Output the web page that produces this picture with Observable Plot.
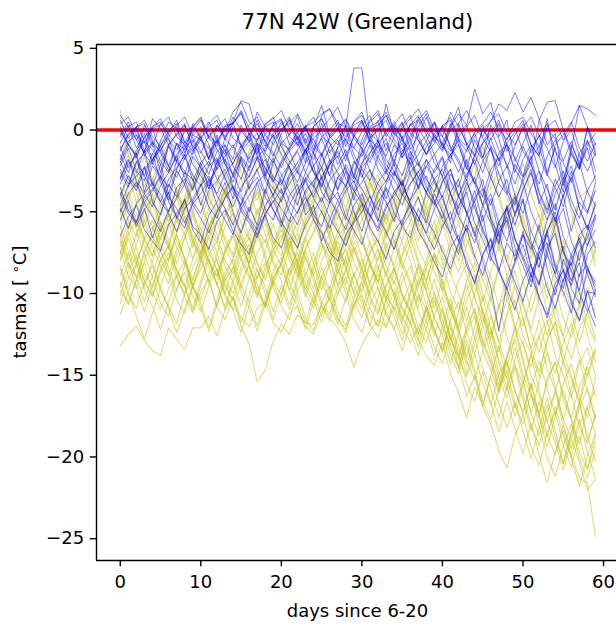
<!DOCTYPE html>
<html><head><meta charset="utf-8">
<script src="https://cdn.jsdelivr.net/npm/d3@7"></script>
<script src="https://cdn.jsdelivr.net/npm/@observablehq/plot@0.6"></script>
<style>html,body{margin:0;padding:0;background:#fff;overflow:hidden}</style>
</head><body><div id="chart"></div>
<script>
const title = "77N 42W (Greenland)";
const xLabel = "days since 6-20";
const xTicks = [0, 10, 20, 30, 40, 50, 60];
const yTicks = [5, 0, -5, -10, -15, -20, -25];
const threshold = [0];

const blueRuns = [
[-0.4,0.3,-1.1,-0.2,-1.9,-0.7,0.5,0.1,-1.4,-0.3,0.2,-0.9,-2.1,-0.5,0.4,1.1,-0.3,0.6,-0.8,-1.6,-0.2,0.7,-0.6,0.3,-1.2,0.9,1.3,0.4,0.2,3.8,3.8,-0.5,0.6,-1.3,0.2,-0.4,-1.8,0.1,-0.7,0.5,-1.1,0.4,-0.9,-2.4,-0.6,-1.7,0.3,-0.5,-2.3,-1.0,0.2,-1.4,-0.3,-2.6,-1.1,-3.4,-0.9,-2.0,0.1,-1.5],
[0.6,-0.5,0.2,-1.3,0.7,0.1,-0.9,-0.3,0.4,-1.1,-0.4,-1.8,0.3,-0.6,0.5,1.8,1.6,-0.2,-1.0,0.4,0.7,-0.9,-0.1,-1.5,0.2,1.5,-0.3,0.4,-1.6,-0.4,0.3,0.9,-0.7,1.6,-0.2,0.5,-1.2,-0.3,0.8,-0.6,-1.3,0.2,1.0,0.3,2.5,1.0,1.7,-0.4,0.6,-1.9,-0.8,0.3,-1.5,0.7,-2.1,-3.8,-1.2,-2.4,0.2,-0.9],
[-1.2,-0.3,0.1,-1.6,-0.8,-2.6,-1.0,-1.9,0.3,-0.5,-1.3,-2.2,-0.7,-1.5,0.2,-0.9,-2.0,-1.1,-2.7,-0.6,0.0,0.6,-1.0,-0.2,-1.4,0.4,-0.8,-2.1,-1.2,-2.9,-0.6,0.5,1.0,-0.4,0.3,-1.7,-0.9,0.6,-0.3,-1.5,-0.8,-2.0,0.4,-0.9,-1.6,0.1,0.5,1.6,1.2,2.3,1.1,2.0,0.7,-0.9,-0.2,-3.0,-1.4,-2.3,-0.6,-2.5],
[-2.0,-0.9,-1.5,0.3,-0.6,-1.4,-2.5,-0.8,-1.2,0.2,-0.4,-1.7,-0.6,0.0,0.5,-1.1,-0.2,-1.4,0.3,0.8,-0.5,-1.3,-0.7,-2.0,0.2,0.7,-0.4,0.1,-1.0,0.5,1.1,-0.3,-1.4,-0.5,-2.2,0.3,0.9,-0.6,-1.5,-0.4,-0.8,0.2,1.4,-0.9,-0.2,-1.7,-0.5,-1.9,-0.9,-2.6,-1.0,-2.1,0.6,1.7,1.8,0.0,-1.2,1.5,1.3,0.9],
[-3.0,-1.9,-2.6,-1.2,-3.4,-2.1,-3.9,-2.4,-1.5,-3.1,-2.0,-3.6,-1.8,-2.9,-4.2,-1.6,-2.3,-0.9,-2.8,-1.7,-3.3,-2.2,-4.0,-2.6,-1.4,-3.0,-1.8,-3.7,-2.5,-4.3,-2.1,-0.9,-2.4,-3.2,-1.9,-2.8,-1.3,-3.6,-2.2,-3.0,-4.1,-2.7,-3.5,-1.8,-3.3,-4.6,-2.9,-4.1,-3.0,-5.3,-3.7,-2.4,-4.5,-3.3,-5.6,-4.0,-6.2,-4.4,-5.1,-3.2],
[-5.5,-4.3,-5.9,-4.8,-6.6,-5.1,-3.8,-5.4,-4.2,-6.1,-6.9,-5.2,-4.4,-3.2,-5.0,-6.3,-4.7,-5.8,-3.6,-4.9,-5.7,-4.0,-3.3,-5.2,-4.6,-6.8,-5.5,-4.3,-3.4,-5.0,-6.2,-4.5,-5.6,-3.5,-4.3,-5.9,-6.6,-4.8,-5.7,-3.9,-5.0,-6.4,-7.6,-5.8,-6.9,-5.2,-7.8,-8.6,-6.9,-7.7,-6.2,-8.4,-9.5,-7.6,-8.8,-7.1,-9.7,-10.6,-8.5,-9.3],
[0.2,-0.9,-1.7,-0.4,0.1,-1.3,-2.2,-0.8,-1.6,0.4,-0.6,-1.1,-2.4,-0.9,-1.8,0.3,-0.7,-1.5,-0.2,0.1,-1.0,-1.9,-2.6,-1.2,-0.5,0.0,-1.4,-0.6,-1.9,-0.3,0.5,-0.8,-1.6,-2.5,-0.9,-1.7,0.4,-0.3,-1.5,-0.8,0.3,-1.1,-2.0,-3.1,-1.5,-2.6,-1.0,-3.3,-3.9,-2.1,-2.9,-1.6,-3.8,-4.9,-3.0,-4.1,-2.5,-4.8,-6.1,-4.4],
[-2.6,-3.5,-1.9,-2.8,-1.4,-3.2,-4.3,-2.5,-3.3,-1.6,-2.3,-3.4,-2.0,-1.2,-2.9,-1.8,-3.6,-2.4,-3.9,-1.9,-2.7,-3.8,-4.6,-2.9,-3.5,-1.5,-2.8,-3.6,-2.1,-3.0,-1.2,-2.5,-3.3,-4.2,-2.6,-3.4,-1.7,-2.9,-3.8,-4.5,-3.1,-2.4,-4.0,-5.1,-3.7,-5.6,-4.2,-6.3,-5.5,-8.0,-6.4,-7.3,-5.8,-8.5,-10.1,-7.9,-9.2,-8.1,-10.8,-12.0],
[-1.0,-2.3,-1.4,-3.8,-2.2,-2.9,-0.9,-2.0,-2.7,-1.3,-0.6,-1.8,-0.3,-2.1,-3.2,-1.7,-2.5,-0.8,-1.6,-2.9,-3.4,-2.0,-1.2,-0.5,-2.2,-1.4,-2.8,-1.0,0.0,-1.5,-2.4,-3.1,-1.6,-0.8,-1.9,-0.4,-2.7,-3.5,-1.8,-2.6,-1.7,-3.9,-4.8,-3.2,-4.4,-3.0,-5.5,-6.9,-4.6,-5.8,-4.3,-6.8,-7.9,-6.2,-5.0,-7.5,-8.3,-6.4,-5.8,-7.2],
[-0.3,0.5,-0.6,0.1,-1.0,0.4,-0.2,0.6,-0.8,0.2,0.7,-0.5,0.3,-0.4,0.8,0.0,-0.7,1.1,0.2,-0.5,0.5,-0.3,0.9,-0.8,0.2,0.7,-0.4,-0.9,0.3,-0.2,0.6,-0.7,0.2,0.9,-0.3,0.4,-0.6,0.8,-0.1,0.5,-0.4,1.1,0.2,-0.8,-1.5,0.0,-0.6,0.4,-1.3,-0.3,0.4,-0.9,-1.6,0.1,-0.5,-1.9,-0.7,-2.2,-1.1,-3.1],
[-4.0,-2.8,-3.5,-2.2,-4.4,-5.2,-3.3,-4.1,-2.6,-3.0,-4.6,-3.1,-2.4,-1.8,-3.5,-4.0,-5.0,-3.2,-2.7,-4.1,-4.8,-5.6,-3.9,-3.1,-2.2,-3.8,-4.5,-2.9,-3.4,-1.9,-2.7,-4.1,-4.9,-3.3,-2.5,-3.9,-4.7,-5.6,-3.8,-3.0,-2.4,-3.9,-5.3,-6.2,-4.1,-3.6,-5.4,-6.5,-4.8,-4.1,-5.9,-7.0,-8.4,-6.1,-5.3,-7.4,-8.6,-9.8,-7.6,-6.8],
[-1.5,-2.6,-1.2,-0.7,-2.0,-2.8,-3.5,-1.9,-1.1,-0.6,-1.8,-2.7,-1.3,-0.9,-2.2,-3.0,-1.5,-0.8,-2.4,-3.1,-1.9,-1.0,-0.4,-1.7,-2.5,-3.4,-2.0,-1.1,-0.5,-1.8,-2.9,-1.4,-0.7,-2.1,-2.8,-1.3,-0.6,-2.0,-3.0,-3.8,-2.2,-1.5,-0.6,-2.1,-3.2,-4.1,-2.4,-1.7,-3.6,-4.6,-2.9,-2.1,-3.9,-5.1,-3.4,-2.5,-4.3,-5.4,-3.7,-2.8],
[0.9,0.2,-0.6,-1.4,0.1,0.3,0.8,-0.4,-0.9,-0.1,0.6,-0.5,-1.0,0.2,0.4,1.2,0.1,-0.8,-1.3,-0.2,0.3,0.8,-0.6,-1.1,-1.8,-0.4,0.0,0.6,-0.7,-1.1,-0.1,0.6,1.2,-0.2,-0.8,-1.5,-0.3,0.2,1.0,-0.4,-0.9,-1.7,-0.4,0.2,0.9,-0.5,-1.3,-2.2,-0.8,-0.1,0.6,-0.9,-1.6,-2.8,-0.9,-0.3,0.5,-1.1,-1.9,-0.8],
[-3.5,-4.9,-5.6,-4.1,-3.6,-2.8,-4.4,-5.3,-6.0,-4.5,-3.9,-3.0,-4.6,-5.5,-6.4,-4.8,-4.0,-3.2,-4.9,-5.5,-4.1,-3.3,-2.5,-4.0,-5.2,-5.9,-4.4,-3.8,-5.3,-6.1,-7.0,-5.4,-4.4,-3.6,-5.1,-5.8,-4.3,-3.5,-2.8,-4.4,-5.5,-6.3,-4.6,-3.8,-5.7,-6.7,-8.0,-6.1,-5.3,-7.2,-8.3,-9.6,-7.5,-6.9,-8.9,-9.9,-11.2,-8.8,-8.3,-9.8],
[-0.8,0.2,0.5,-0.7,-1.2,-2.1,-0.9,-0.2,0.3,-1.0,-1.4,-0.3,0.1,0.7,-0.5,-0.9,-1.8,-0.6,0.2,0.5,-0.8,-1.2,-0.1,0.2,0.8,-0.4,-0.8,-1.7,-0.5,0.3,0.6,-0.6,-1.1,0.0,0.3,1.0,-0.2,-0.6,-1.5,-0.2,0.1,0.8,-0.5,-1.0,-2.1,-0.8,-0.2,0.6,-0.9,-1.7,-2.8,-1.1,-0.4,0.4,-1.3,-2.0,-3.2,-1.4,-0.7,-1.6],
[-2.2,-1.1,-2.5,-3.1,-1.8,-1.2,-0.5,-1.9,-2.5,-3.6,-2.0,-1.4,-0.6,-2.1,-2.7,-3.8,-2.2,-1.6,-2.9,-3.6,-4.4,-2.9,-2.3,-1.2,-2.6,-3.5,-2.1,-1.6,-3.0,-3.7,-2.3,-1.7,-0.9,-2.4,-3.0,-4.0,-2.6,-2.0,-3.5,-4.3,-5.4,-3.8,-3.0,-5.1,-6.3,-8.0,-9.6,-12.3,-9.4,-8.0,-6.4,-8.3,-9.4,-7.2,-6.3,-8.6,-9.5,-7.4,-6.6,-5.2],
[-6.5,-5.3,-4.6,-6.1,-6.8,-7.4,-5.8,-5.1,-4.3,-5.9,-6.4,-7.3,-5.6,-4.9,-6.2,-7.0,-7.6,-5.9,-5.2,-6.6,-7.2,-5.7,-5.0,-4.1,-5.5,-6.3,-7.5,-8.0,-6.4,-5.6,-4.5,-6.0,-6.8,-7.9,-6.2,-5.5,-4.6,-6.2,-7.0,-8.1,-9.0,-7.2,-6.4,-8.3,-9.3,-7.6,-6.7,-8.7,-9.7,-11.0,-9.2,-8.2,-10.3,-11.3,-9.4,-8.6,-10.6,-11.6,-9.8,-11.5],
[0.4,0.8,-0.3,-0.8,0.2,0.5,-0.6,-1.2,-0.1,0.2,0.8,-0.4,-0.8,0.3,0.4,1.0,-0.2,-0.6,0.4,0.7,1.2,0.1,-0.4,-1.3,-0.2,0.1,0.7,1.4,0.2,-0.3,-1.2,0.1,0.3,0.9,-0.2,-0.7,0.3,0.6,1.2,0.0,-0.4,-1.3,-0.1,0.3,-1.1,-1.8,-2.9,-1.4,-0.9,-2.4,-3.2,-1.7,-1.0,-2.7,-3.5,-4.7,-2.8,-2.0,-3.8,-4.6],
[-4.6,-3.4,-2.8,-2.3,-3.3,-3.9,-5.0,-3.5,-3.0,-4.4,-5.1,-3.7,-3.1,-2.4,-3.6,-4.2,-5.4,-6.1,-4.6,-3.9,-3.0,-4.4,-5.1,-3.7,-3.1,-2.3,-3.6,-4.3,-5.5,-3.8,-3.2,-2.4,-3.7,-4.4,-5.6,-4.0,-3.3,-2.5,-3.9,-4.6,-3.2,-2.4,-4.1,-5.0,-6.5,-4.7,-3.9,-5.7,-6.8,-5.1,-4.2,-6.2,-7.3,-5.5,-4.5,-6.5,-7.7,-9.0,-7.0,-6.1],
[-1.8,-0.7,-0.3,-1.5,-2.1,-0.9,-0.4,0.2,-1.0,-1.5,-0.4,0.0,-1.2,-1.8,-2.7,-1.3,-0.7,-0.2,-1.4,-2.0,-0.8,-0.3,0.4,-0.9,-1.4,-2.3,-1.0,-0.5,0.2,-1.1,-1.6,-0.5,0.0,0.6,-0.6,-1.2,-2.1,-0.9,-0.3,0.4,-0.9,-1.5,-2.6,-1.2,-0.4,0.3,-1.0,-1.8,-0.5,0.1,-1.3,-2.1,-3.3,-1.6,-0.6,0.0,-1.5,-2.4,-0.9,-0.2],
[-3.3,-2.1,-1.6,-2.9,-3.5,-4.4,-3.0,-2.3,-1.5,-2.8,-3.4,-2.2,-1.7,-3.0,-3.8,-4.6,-3.2,-2.4,-1.8,-3.1,-3.9,-2.7,-2.0,-1.2,-2.6,-3.3,-4.3,-2.9,-2.3,-3.7,-4.5,-5.3,-3.8,-3.1,-2.1,-3.5,-4.3,-2.9,-2.2,-1.5,-2.9,-3.9,-5.2,-3.6,-2.9,-4.6,-5.7,-7.0,-5.2,-4.3,-3.2,-5.0,-6.2,-7.6,-5.8,-4.8,-6.8,-8.0,-6.2,-5.2],
[-0.1,-0.9,0.2,0.4,-0.8,-1.3,-0.2,0.3,0.8,-0.3,-0.6,0.4,0.9,-0.1,1.1,1.7,0.5,0.1,-0.7,0.3,0.6,-0.4,-0.9,0.2,0.5,1.0,1.3,0.1,-0.4,0.5,0.9,-0.2,-0.7,-1.6,-0.4,0.1,0.7,1.3,0.2,-0.3,-1.2,0.0,0.4,1.2,0.1,-0.4,0.6,1.0,-0.2,-0.9,0.2,0.8,-0.3,-1.1,-2.3,-0.7,0.0,-1.6,-2.5,-1.4],
[-4.8,-6.0,-4.5,-3.9,-3.2,-4.4,-5.1,-6.2,-4.8,-4.2,-3.3,-4.7,-5.4,-4.1,-3.5,-4.9,-5.7,-6.6,-5.1,-4.4,-3.6,-5.0,-5.8,-4.4,-3.8,-2.9,-4.3,-5.1,-6.1,-4.6,-3.9,-5.2,-6.0,-4.6,-4.0,-3.1,-4.5,-5.3,-6.3,-4.8,-4.0,-5.7,-6.8,-5.2,-4.4,-6.2,-7.2,-5.6,-4.8,-6.7,-7.7,-9.0,-7.2,-6.2,-8.2,-9.3,-7.6,-6.6,-8.5,-9.5],
[-2.4,-3.3,-2.0,-1.4,-0.7,-1.9,-2.6,-1.5,-0.9,-2.1,-2.8,-3.6,-2.2,-1.6,-0.9,-2.1,-2.9,-1.7,-1.1,-0.3,-1.5,-2.3,-3.2,-2.0,-1.3,-0.5,-1.8,-2.6,-3.5,-2.1,-1.4,-0.6,-1.9,-2.7,-1.5,-0.8,-2.1,-2.9,-3.8,-2.4,-1.6,-3.1,-4.1,-2.7,-1.8,-3.5,-4.6,-3.1,-2.2,-4.0,-5.1,-3.5,-2.5,-4.3,-5.6,-4.0,-2.9,-4.8,-6.0,-4.6],
[-2.9,-1.8,-3.1,-3.9,-4.7,-3.4,-2.6,-1.6,-2.9,-3.7,-2.5,-1.9,-3.0,-3.8,-4.7,-3.5,-2.8,-1.7,-3.1,-4.0,-2.8,-2.1,-1.3,-2.6,-3.4,-4.4,-3.1,-2.4,-1.5,-2.8,-3.6,-4.5,-3.2,-2.5,-3.7,-4.6,-3.3,-2.6,-1.8,-3.2,-4.2,-5.5,-4.0,-3.0,-4.8,-6.0,-7.4,-5.7,-4.7,-6.6,-7.9,-9.3,-7.5,-6.4,-8.4,-9.7,-7.9,-6.8,-8.8,-10.2],
[0.0,-0.9,-1.6,-0.5,0.2,0.7,-0.3,-0.9,-1.8,-0.7,-0.1,0.5,-0.6,-1.2,-2.1,-0.9,-0.3,0.4,-0.7,-1.4,-2.3,-1.1,-0.5,0.2,-0.9,-1.6,-0.5,0.0,0.6,-0.5,-1.1,-2.0,-0.8,-0.2,0.5,-0.6,-1.3,-2.2,-1.0,-0.4,0.2,-1.0,-1.8,-2.9,-1.6,-0.8,0.1,-1.2,-2.1,-3.3,-1.8,-0.9,-2.5,-3.6,-4.9,-3.2,-2.2,-3.9,-5.0,-3.7],
[-1.9,-3.0,-3.7,-2.4,-1.8,-1.0,-2.2,-2.9,-1.7,-1.1,-2.3,-3.0,-3.9,-2.7,-2.0,-1.2,-0.4,-1.6,-2.3,-3.2,-2.0,-1.3,-2.5,-3.2,-4.1,-2.8,-2.1,-1.3,-2.5,-3.2,-2.0,-1.4,-0.6,-1.8,-2.5,-3.4,-2.2,-1.5,-0.7,-2.0,-2.8,-1.5,-0.9,-2.3,-3.3,-1.9,-1.1,-2.7,-3.8,-5.1,-3.6,-2.6,-4.3,-5.5,-3.9,-2.9,-4.7,-5.9,-7.1,-5.4],
[-5.0,-3.9,-3.2,-4.5,-5.3,-6.2,-4.9,-4.2,-3.3,-4.6,-5.4,-6.3,-5.0,-4.2,-3.4,-4.7,-5.5,-6.4,-5.1,-4.3,-5.6,-6.4,-7.2,-5.8,-5.0,-4.1,-5.4,-6.2,-7.1,-5.7,-5.0,-4.0,-5.4,-6.2,-7.3,-5.9,-5.1,-4.1,-5.5,-6.3,-7.4,-8.5,-6.9,-6.0,-7.7,-8.9,-7.3,-6.3,-8.1,-9.3,-10.5,-8.8,-7.8,-9.7,-10.9,-9.2,-8.1,-10.0,-11.1,-9.8],
[-1.3,-0.2,0.2,0.6,-0.4,-1.0,0.0,0.4,-0.7,-1.3,-0.2,0.2,0.6,-0.5,-1.1,-0.1,0.3,0.8,-0.3,-0.9,0.1,0.4,1.0,0.0,-0.6,-1.5,-0.4,0.1,0.7,-0.3,-0.9,0.2,0.5,1.1,0.1,-0.5,0.3,0.9,-0.1,-0.7,0.3,0.6,-0.6,-1.3,-0.1,0.4,1.1,0.1,-0.6,0.5,0.8,-0.2,-1.0,0.2,0.6,-0.6,0.4,1.5,0.2,-1.3],
[-3.8,-5.1,-5.7,-4.4,-3.7,-2.9,-4.1,-4.8,-5.7,-4.4,-3.4,-2.8,-4.0,-4.8,-5.8,-4.5,-3.5,-2.9,-4.1,-4.9,-5.9,-4.6,-3.6,-3.0,-4.2,-5.0,-6.0,-4.7,-3.7,-3.1,-4.4,-5.2,-6.2,-4.8,-3.8,-3.2,-4.5,-5.3,-6.4,-7.3,-5.9,-5.0,-6.8,-8.0,-9.4,-7.7,-6.6,-8.5,-9.8,-8.1,-7.0,-8.9,-10.2,-11.5,-9.7,-8.5,-10.4,-11.7,-9.9,-10.0]
];

const yellowRuns = [
[1.2,-1.5,-3.8,-5.6,-3.9,-6.0,-7.3,-5.2,-4.5,-6.8,-7.8,-5.9,-5.0,-3.6,-5.7,-6.9,-8.2,-6.1,-5.4,-3.9,-5.6,-7.4,-8.5,-6.6,-5.5,-4.2,-6.3,-7.6,-5.8,-4.9,-6.9,-8.0,-9.3,-7.2,-6.3,-8.1,-9.2,-10.5,-8.4,-7.6,-9.6,-10.7,-12.0,-9.8,-8.9,-11.1,-12.2,-13.6,-11.3,-10.4,-12.6,-13.7,-15.1,-12.8,-11.8,-14.2,-15.2,-16.6,-14.3,-13.5],
[-13.2,-12.5,-12.0,-12.9,-13.5,-13.8,-12.1,-12.8,-13.4,-12.1,-12.1,-11.4,-12.6,-11.0,-10.2,-11.5,-12.0,-10.9,-10.5,-11.8,-12.4,-11.2,-10.8,-12.0,-12.5,-11.1,-10.3,-11.6,-12.2,-10.7,-10.1,-11.3,-12.0,-10.4,-9.7,-11.0,-11.8,-12.9,-11.0,-10.2,-12.0,-13.1,-14.5,-12.4,-11.4,-13.5,-14.7,-16.0,-13.8,-12.8,-15.0,-16.2,-17.6,-15.2,-14.2,-16.5,-17.7,-19.2,-16.9,-15.9],
[-9.8,-10.6,-9.2,-8.1,-9.9,-11.0,-9.7,-8.9,-10.2,-11.2,-9.9,-9.1,-10.8,-11.6,-10.2,-12.0,-13.1,-15.4,-14.7,-12.9,-11.9,-12.5,-11.3,-11.8,-11.9,-10.7,-11.5,-12.1,-13.0,-14.5,-13.1,-12.3,-11.6,-12.0,-10.8,-11.9,-13.0,-12.1,-11.0,-12.3,-13.6,-12.1,-13.9,-15.1,-13.7,-15.5,-16.8,-14.9,-14.1,-16.0,-17.2,-15.5,-17.4,-18.8,-16.9,-18.7,-20.0,-18.0,-17.0,-18.6],
[-3.5,-4.9,-5.8,-3.9,-2.9,-4.2,-5.1,-6.3,-4.3,-3.6,-2.4,-4.1,-5.0,-3.7,-2.8,-1.6,-3.3,-4.3,-2.8,-1.9,-0.8,-2.5,-3.5,-4.8,-3.1,-2.3,-4.1,-5.0,-3.4,-2.6,-1.5,-3.2,-4.2,-5.5,-3.8,-3.0,-4.9,-5.8,-4.0,-3.2,-5.0,-6.0,-4.3,-3.4,-2.1,-4.0,-5.2,-6.7,-4.8,-3.9,-5.9,-7.0,-8.4,-6.4,-5.5,-7.6,-8.7,-6.8,-5.9,-7.5],
[-6.8,-8.4,-7.0,-5.5,-7.2,-8.3,-9.4,-7.6,-6.6,-5.2,-6.9,-8.0,-9.5,-7.5,-6.5,-8.0,-9.0,-10.1,-8.3,-7.3,-5.8,-7.6,-8.8,-7.2,-6.2,-4.9,-6.7,-7.8,-9.4,-7.4,-6.5,-8.2,-9.3,-10.4,-8.6,-7.6,-6.1,-8.0,-9.2,-7.6,-9.9,-11.0,-9.2,-8.2,-10.3,-11.4,-12.8,-10.8,-9.9,-12.0,-13.1,-14.5,-12.5,-11.6,-13.8,-15.0,-16.4,-14.3,-13.3,-15.0],
[-5.2,-3.8,-5.6,-6.6,-7.7,-5.9,-5.0,-3.7,-5.4,-6.4,-7.5,-5.8,-4.9,-3.5,-5.3,-6.3,-7.4,-5.7,-4.8,-3.4,-5.1,-6.1,-7.3,-5.6,-4.7,-6.2,-7.2,-8.4,-6.6,-5.6,-4.1,-5.9,-6.9,-5.2,-4.3,-3.0,-4.8,-5.9,-7.2,-5.5,-7.7,-8.8,-7.0,-6.0,-8.0,-9.1,-10.5,-8.5,-7.6,-9.7,-10.7,-12.2,-10.2,-9.3,-11.5,-12.6,-10.6,-9.7,-11.9,-13.0],
[-8.5,-10.1,-10.9,-9.3,-8.3,-9.8,-10.8,-11.8,-10.0,-9.1,-7.7,-9.3,-10.8,-9.0,-7.9,-6.5,-8.3,-9.4,-10.9,-9.3,-10.8,-11.6,-9.8,-8.9,-7.5,-9.4,-10.4,-8.7,-7.9,-9.5,-10.6,-12.0,-10.3,-8.6,-10.2,-11.8,-10.1,-8.4,-9.9,-11.5,-12.5,-10.7,-12.6,-14.4,-12.7,-10.9,-12.9,-14.8,-15.9,-14.0,-12.9,-15.0,-16.2,-17.9,-16.0,-14.1,-16.2,-18.1,-19.2,-17.4],
[-4.2,-2.7,-4.4,-5.9,-4.5,-3.0,-2.2,-3.8,-4.9,-3.4,-2.6,-4.2,-5.2,-3.7,-2.8,-1.5,-0.9,-2.5,-1.3,-0.2,-1.7,-3.4,-4.5,-3.0,-2.1,-3.7,-4.8,-6.3,-4.8,-3.2,-2.4,-4.0,-5.1,-6.6,-5.1,-3.5,-5.2,-6.8,-5.3,-3.7,-2.8,-4.5,-5.7,-4.0,-2.9,-1.0,-2.9,-4.2,-6.0,-4.3,-6.0,-7.9,-6.1,-4.4,-6.4,-8.3,-9.5,-7.7,-6.6,-8.3],
[-7.6,-6.2,-7.8,-9.3,-10.1,-8.5,-7.5,-9.0,-10.0,-8.4,-7.4,-6.0,-7.5,-9.1,-10.0,-8.4,-7.4,-6.0,-7.6,-9.2,-10.1,-8.5,-7.5,-9.0,-10.0,-11.4,-9.7,-8.1,-7.3,-8.9,-9.9,-8.3,-7.3,-8.9,-10.0,-11.6,-9.9,-8.2,-9.8,-11.5,-12.6,-14.3,-12.5,-10.8,-12.7,-14.6,-15.8,-17.6,-15.7,-14.4,-16.1,-18.1,-19.3,-17.3,-16.0,-18.1,-19.5,-17.7,-19.7,-21.3],
[-5.9,-7.4,-8.2,-6.5,-5.5,-7.0,-8.0,-6.3,-5.3,-6.9,-7.9,-9.3,-7.6,-5.9,-5.1,-6.6,-7.6,-9.1,-7.4,-5.7,-7.3,-8.9,-7.2,-5.5,-4.7,-6.2,-7.2,-8.8,-7.1,-5.4,-4.6,-6.2,-7.3,-8.9,-7.2,-5.5,-7.2,-8.9,-9.8,-8.1,-7.0,-8.8,-10.0,-11.7,-10.0,-8.3,-10.2,-12.1,-10.3,-8.6,-10.5,-12.4,-13.6,-11.8,-10.7,-12.7,-14.0,-12.2,-11.1,-12.8],
[-10.6,-9.1,-8.2,-9.8,-10.8,-12.2,-10.5,-8.9,-8.0,-9.6,-10.6,-12.1,-10.4,-8.7,-7.9,-9.5,-10.5,-12.0,-10.3,-8.6,-7.8,-9.4,-10.4,-11.8,-10.1,-8.4,-9.9,-11.5,-12.4,-10.7,-9.6,-8.1,-9.7,-11.3,-12.2,-10.5,-9.4,-11.1,-12.2,-13.8,-12.0,-10.3,-12.2,-14.1,-15.3,-13.5,-12.3,-14.3,-15.7,-17.5,-15.6,-13.8,-15.9,-17.9,-19.1,-20.8,-18.9,-20.3,-22.0,-21.4],
[-2.8,-4.3,-3.0,-1.6,-3.1,-4.7,-5.6,-4.0,-3.1,-1.7,-3.2,-4.8,-3.3,-1.8,-1.1,-2.6,-3.6,-5.2,-3.6,-2.1,-3.7,-5.3,-6.2,-4.6,-3.6,-2.2,-3.8,-5.5,-3.9,-2.3,-3.9,-5.6,-4.0,-2.5,-1.8,-3.4,-4.5,-6.2,-4.6,-3.0,-4.7,-6.4,-7.4,-5.7,-4.6,-6.4,-7.6,-5.9,-4.8,-6.7,-8.0,-6.2,-5.1,-7.1,-8.4,-10.2,-8.3,-6.5,-8.5,-10.1],
[-7.4,-8.9,-9.7,-8.0,-6.9,-5.6,-7.1,-8.7,-9.6,-7.9,-6.9,-8.4,-9.4,-10.8,-9.1,-7.4,-6.6,-8.2,-9.2,-7.7,-6.7,-5.4,-7.0,-8.7,-9.7,-8.0,-6.9,-8.5,-9.6,-11.0,-9.2,-7.5,-6.7,-8.3,-9.4,-7.7,-6.6,-8.2,-9.3,-10.9,-9.1,-11.0,-12.2,-13.9,-12.0,-10.2,-12.1,-14.1,-15.2,-13.3,-15.3,-17.3,-15.4,-13.6,-15.7,-17.7,-18.9,-17.0,-15.8,-17.6],
[-9.3,-10.7,-9.1,-7.6,-9.0,-10.6,-11.4,-9.7,-8.7,-10.2,-11.1,-9.5,-8.5,-10.0,-11.0,-12.4,-10.7,-9.0,-8.1,-9.7,-10.6,-8.9,-7.9,-9.4,-10.4,-11.8,-10.1,-8.5,-10.0,-11.6,-12.4,-10.7,-9.6,-11.1,-12.1,-13.5,-11.8,-10.1,-11.7,-13.3,-14.3,-12.5,-14.4,-16.3,-15.0,-16.9,-18.0,-19.6,-20.7,-18.7,-17.4,-19.4,-20.5,-18.5,-17.2,-19.3,-20.6,-18.7,-20.7,-18.6],
[-5.6,-4.1,-3.3,-4.9,-5.9,-7.3,-5.7,-4.1,-5.6,-7.2,-5.6,-4.0,-3.2,-4.8,-5.8,-7.3,-8.1,-6.4,-5.4,-3.9,-5.5,-7.1,-5.5,-3.9,-3.1,-4.7,-5.7,-7.3,-8.2,-6.5,-5.5,-4.0,-5.6,-7.3,-8.3,-6.7,-5.6,-4.1,-5.8,-7.5,-8.5,-6.8,-5.7,-7.5,-8.7,-10.5,-8.7,-7.0,-8.9,-10.8,-12.0,-10.2,-9.1,-11.1,-12.4,-14.2,-12.3,-10.5,-12.5,-14.2],
[-8.0,-6.6,-8.1,-9.6,-8.0,-6.5,-5.7,-7.2,-8.2,-9.7,-8.1,-6.5,-8.0,-9.6,-10.4,-8.7,-7.7,-6.3,-7.9,-9.5,-8.0,-6.5,-8.1,-9.7,-10.6,-8.9,-7.9,-9.5,-10.5,-8.9,-7.9,-9.5,-10.6,-12.1,-10.4,-8.7,-10.4,-12.1,-13.0,-11.3,-10.2,-12.0,-13.2,-14.9,-13.1,-11.4,-13.3,-15.2,-16.4,-14.5,-16.5,-18.4,-16.6,-18.6,-19.9,-18.0,-19.9,-21.3,-21.6,-24.9],
[-1.8,-0.3,-1.9,-3.5,-2.1,-0.6,-2.2,-3.9,-4.8,-3.2,-2.3,-0.9,-2.5,-4.1,-2.6,-1.1,-0.3,-1.9,-2.9,-1.5,-0.7,-2.3,-3.4,-5.0,-3.5,-2.0,-1.2,-2.8,-3.9,-5.5,-4.0,-2.5,-4.1,-5.8,-4.3,-2.7,-1.9,-3.6,-4.7,-6.3,-4.7,-3.1,-4.9,-6.7,-7.8,-6.0,-4.9,-6.8,-8.0,-6.3,-5.2,-7.2,-8.5,-10.3,-8.5,-6.7,-8.7,-10.6,-8.8,-7.3],
[-11.3,-9.9,-11.4,-12.8,-11.2,-9.6,-10.9,-12.4,-11.0,-9.5,-10.9,-12.3,-10.7,-9.2,-8.4,-9.9,-10.9,-12.3,-10.6,-9.0,-8.2,-9.8,-10.8,-12.2,-10.5,-8.9,-10.4,-11.9,-10.3,-8.7,-10.3,-11.9,-12.7,-11.0,-9.9,-11.4,-12.4,-13.8,-12.1,-10.4,-12.0,-13.8,-14.9,-13.1,-15.0,-16.9,-15.1,-16.7,-18.2,-16.7,-18.4,-20.1,-18.2,-16.4,-18.4,-20.4,-18.5,-16.7,-18.7,-20.3],
[-6.3,-7.9,-6.4,-4.9,-4.2,-5.7,-6.7,-8.2,-6.6,-5.0,-6.5,-8.1,-9.0,-7.4,-6.4,-4.9,-6.5,-8.1,-9.0,-7.4,-6.4,-8.0,-9.0,-7.3,-6.3,-4.9,-6.5,-8.1,-6.5,-5.0,-6.6,-8.3,-9.3,-7.7,-6.7,-8.3,-9.4,-10.9,-9.2,-7.6,-9.3,-11.1,-12.2,-10.4,-9.3,-11.2,-12.5,-10.7,-12.6,-14.4,-15.5,-13.7,-12.6,-14.6,-15.9,-17.7,-15.8,-14.0,-16.0,-17.7],
[-7.1,-5.6,-7.2,-8.8,-9.6,-8.0,-7.0,-8.5,-9.5,-10.9,-9.2,-7.6,-6.8,-8.3,-9.3,-10.8,-9.1,-7.5,-6.7,-8.2,-9.2,-10.7,-9.0,-7.4,-8.9,-10.5,-11.3,-9.6,-8.6,-7.2,-8.8,-10.4,-11.3,-9.6,-8.5,-10.1,-11.1,-12.5,-10.8,-9.1,-10.9,-12.7,-13.8,-12.0,-10.9,-12.8,-14.1,-15.8,-14.0,-12.2,-14.2,-16.1,-17.3,-15.4,-14.2,-16.2,-17.6,-15.7,-14.5,-16.3],
[-4.6,-6.1,-4.5,-3.0,-4.5,-6.1,-7.0,-5.4,-4.4,-3.0,-4.5,-6.1,-6.9,-5.3,-4.3,-2.9,-4.4,-6.0,-6.9,-5.3,-4.3,-2.9,-4.5,-6.1,-4.5,-3.0,-2.2,-3.8,-4.8,-6.3,-4.7,-3.2,-4.8,-6.4,-4.8,-3.3,-2.5,-4.2,-5.2,-3.7,-2.8,-4.5,-3.0,-1.9,-1.2,-0.8,-2.6,-3.9,-5.7,-4.0,-5.6,-7.5,-5.8,-4.1,-6.1,-8.0,-9.2,-7.4,-6.3,-8.0],
[-8.9,-7.5,-9.0,-10.5,-8.9,-7.3,-8.8,-10.4,-11.2,-9.5,-8.5,-7.1,-8.6,-10.2,-11.0,-9.3,-8.3,-9.8,-10.8,-9.2,-8.2,-6.8,-8.4,-10.0,-10.9,-9.2,-8.2,-6.8,-8.4,-10.0,-11.0,-9.3,-8.3,-9.9,-11.0,-12.5,-10.8,-9.1,-10.7,-12.3,-13.4,-11.6,-10.5,-12.4,-13.7,-11.9,-13.8,-15.6,-13.8,-12.0,-14.0,-15.9,-14.1,-15.8,-17.4,-15.5,-14.3,-16.3,-17.6,-15.1],
[-5.0,-3.4,-2.6,-4.2,-5.2,-6.7,-5.1,-3.5,-5.1,-6.7,-7.6,-6.0,-5.0,-6.6,-7.6,-6.0,-5.0,-3.6,-5.2,-6.8,-7.7,-6.1,-5.1,-3.7,-5.3,-6.9,-7.8,-6.2,-5.2,-3.7,-5.3,-7.0,-8.0,-6.4,-5.4,-3.9,-5.6,-7.3,-8.3,-6.7,-5.7,-7.5,-8.7,-7.0,-5.9,-7.7,-9.0,-10.8,-9.0,-7.3,-9.2,-11.1,-9.3,-7.6,-9.6,-11.5,-12.7,-10.8,-9.6,-11.4],
[-10.1,-8.6,-7.7,-9.2,-10.2,-8.7,-7.8,-6.4,-7.9,-9.5,-10.4,-8.8,-7.9,-9.4,-10.4,-11.8,-10.1,-8.5,-10.0,-11.6,-10.0,-8.4,-9.9,-11.5,-12.3,-10.6,-9.5,-11.1,-12.0,-10.3,-9.3,-10.9,-12.0,-10.3,-9.2,-10.8,-11.8,-13.3,-11.6,-9.9,-11.6,-13.4,-14.6,-12.8,-14.7,-16.6,-17.7,-15.9,-14.7,-16.7,-18.0,-16.1,-18.1,-20.0,-21.2,-19.3,-18.0,-20.1,-21.3,-19.6],
[-7.5,-6.0,-5.1,-6.7,-7.7,-6.1,-5.2,-6.8,-7.8,-9.2,-7.6,-6.0,-5.2,-6.8,-7.8,-6.2,-5.2,-3.8,-5.4,-7.0,-5.5,-7.1,-8.0,-6.4,-5.4,-7.0,-8.0,-9.5,-7.8,-6.2,-7.8,-9.4,-7.8,-6.2,-5.3,-6.9,-8.0,-9.6,-8.0,-6.4,-8.1,-9.9,-11.0,-9.2,-8.1,-10.0,-11.2,-13.0,-11.2,-9.5,-11.5,-13.4,-11.6,-13.6,-14.9,-13.0,-11.8,-13.8,-15.1,-13.6],
[-9.6,-8.1,-9.6,-11.1,-9.5,-7.9,-7.1,-8.6,-9.6,-11.1,-9.5,-7.9,-9.4,-11.0,-9.4,-7.8,-7.0,-8.6,-9.6,-11.1,-9.5,-11.0,-9.3,-7.7,-9.2,-10.8,-11.7,-10.0,-9.0,-10.5,-11.5,-9.8,-8.8,-10.4,-11.4,-12.9,-11.2,-12.8,-13.8,-14.4,-13.0,-14.9,-16.1,-17.6,-15.7,-16.8,-15.0,-13.2,-15.2,-17.0,-15.4,-17.3,-18.7,-16.8,-18.8,-20.4,-18.5,-16.6,-19.0,-17.4],
[-3.0,-1.5,-3.1,-4.7,-3.1,-1.6,-0.8,-2.4,-3.4,-5.0,-3.4,-1.9,-1.1,-2.7,-3.7,-2.2,-1.3,-0.5,-1.8,-3.4,-4.4,-2.8,-2.0,-3.6,-4.6,-3.1,-2.2,-1.1,-2.4,-4.1,-5.1,-3.5,-2.7,-4.4,-5.4,-3.8,-2.9,-1.8,-3.2,-4.9,-6.0,-4.3,-3.3,-5.1,-6.3,-4.5,-3.5,-2.5,-4.1,-5.9,-4.3,-2.6,-4.5,-6.3,-4.7,-3.0,-5.0,-6.8,-5.1,-3.7],
[-8.3,-9.8,-8.2,-6.7,-5.9,-7.4,-8.4,-9.9,-8.3,-6.8,-6.0,-7.5,-8.5,-10.0,-8.4,-6.9,-8.3,-9.9,-10.7,-9.1,-8.1,-6.6,-8.2,-9.8,-8.2,-6.6,-5.8,-7.4,-8.4,-10.0,-8.4,-6.8,-8.4,-10.1,-11.0,-9.3,-8.3,-10.0,-11.0,-12.6,-10.9,-12.8,-14.0,-12.2,-11.0,-13.0,-14.3,-16.1,-14.2,-15.9,-17.4,-15.5,-17.5,-19.4,-17.5,-15.9,-17.7,-19.7,-20.8,-19.1],
[-6.6,-8.1,-9.0,-7.4,-6.4,-7.9,-8.9,-7.3,-6.3,-4.9,-6.4,-8.0,-8.9,-7.3,-6.3,-7.8,-8.8,-10.3,-8.6,-7.0,-6.1,-7.7,-8.7,-10.2,-8.5,-6.9,-8.5,-10.1,-8.5,-6.9,-8.5,-10.2,-11.1,-9.4,-8.4,-10.0,-11.0,-12.5,-10.8,-12.1,-13.5,-11.7,-13.6,-15.5,-16.6,-14.8,-16.7,-18.5,-16.6,-18.3,-19.8,-17.9,-19.9,-21.6,-19.7,-18.4,-20.1,-21.8,-19.9,-18.6],
[-6.0,-4.5,-6.1,-7.7,-6.1,-4.6,-3.8,-5.4,-6.4,-7.9,-6.3,-4.8,-6.4,-8.0,-8.8,-7.1,-6.2,-4.8,-6.4,-8.0,-8.9,-7.2,-6.3,-7.9,-8.9,-7.3,-6.3,-4.9,-6.5,-8.1,-9.1,-7.4,-6.5,-5.1,-6.8,-8.5,-6.9,-5.3,-7.0,-8.7,-9.8,-8.1,-7.0,-8.9,-10.2,-11.9,-10.1,-8.4,-10.3,-12.2,-10.4,-8.7,-10.7,-12.6,-10.8,-9.1,-11.1,-13.0,-11.2,-10.9],
[-4.0,-5.5,-6.5,-4.9,-3.9,-2.5,-4.1,-5.7,-4.1,-2.6,-4.2,-5.8,-6.7,-5.1,-4.1,-5.7,-6.7,-5.1,-4.1,-2.7,-4.3,-5.9,-6.8,-5.2,-4.2,-2.8,-4.4,-6.0,-7.0,-5.3,-4.4,-3.0,-4.6,-6.3,-7.3,-5.7,-4.7,-3.3,-5.0,-6.7,-5.1,-6.9,-8.0,-6.3,-5.2,-3.6,-5.5,-7.4,-5.7,-4.0,-2.0,-3.9,-5.3,-7.2,-5.5,-7.4,-5.8,-4.1,-3.7,-5.3],
[-7.9,-6.4,-5.5,-7.1,-8.1,-9.6,-8.0,-6.4,-7.9,-9.5,-8.0,-6.4,-5.6,-7.2,-8.2,-9.7,-8.1,-6.5,-5.7,-7.3,-8.3,-9.8,-8.2,-6.6,-8.2,-9.8,-8.2,-6.6,-5.8,-7.4,-8.4,-10.1,-8.5,-6.9,-8.5,-10.2,-11.1,-9.4,-8.4,-10.1,-11.2,-12.9,-11.1,-9.4,-11.3,-13.2,-11.4,-13.0,-14.5,-12.7,-11.5,-13.4,-14.8,-12.9,-11.7,-13.7,-15.0,-16.8,-14.9,-13.3]
];

// long-format table built from the named arrays
const rows = [];
yellowRuns.forEach((run, r) => run.forEach((v, day) => rows.push({group: "yellow", run: "y" + r, day, value: v})));
blueRuns.forEach((run, r) => run.forEach((v, day) => rows.push({group: "blue", run: "b" + r, day, value: v})));

const xDom = [-2.95, 61.61];
const yDom = [-26.335, 5.235];

const chart = Plot.plot({
  width: 616, height: 625,
  marginLeft: 96, marginRight: 0, marginTop: 44, marginBottom: 65,
  style: {fontFamily: "DejaVu Sans", fontSize: "18px", background: "#ffffff", color: "#000"},
  x: {domain: xDom},
  y: {domain: yDom},
  marks: [
    Plot.ruleY(threshold, {stroke: "#ff0000", strokeWidth: 3.6}),
    Plot.line(rows.filter(d => d.group === "yellow"), {x: "day", y: "value", z: "run", stroke: "#bfbf00", strokeOpacity: 0.5, strokeWidth: 1.1}),
    Plot.line(rows.filter(d => d.group === "blue"), {x: "day", y: "value", z: "run", stroke: "#0000ff", strokeOpacity: 0.5, strokeWidth: 1.0}),
    Plot.axisX(xTicks, {tickSize: 6.2, tickPadding: 9, strokeWidth: 1.4, label: null, fontSize: 18, tickFormat: d3.format("d")}),
    Plot.axisY(yTicks, {tickSize: 6.2, tickPadding: 6.2, strokeWidth: 1.4, label: null, fontSize: 18, tickFormat: d3.format("d")}),
    Plot.ruleX([xDom[0]], {stroke: "#000", strokeWidth: 1.4}),
    Plot.ruleY([yDom[0], yDom[1]], {stroke: "#000", strokeWidth: 1.4})
  ]
});

const svg = d3.select(chart);
svg.append("text").attr("x", 357.5).attr("y", 28.5).attr("text-anchor", "middle")
  .attr("font-size", 21.3).attr("fill", "#000").text(title);
svg.append("text").attr("x", 357.5).attr("y", 617).attr("text-anchor", "middle")
  .attr("font-size", 18).attr("fill", "#000").text(xLabel);
const yl = svg.append("text").attr("transform", "translate(26,302) rotate(-90)")
  .attr("text-anchor", "middle").attr("font-size", 18).attr("fill", "#000");
yl.append("tspan").text("tasmax [ ");
yl.append("tspan").attr("font-size", 13).attr("dy", -6).text("∘");
yl.append("tspan").attr("dy", 6).text("C]");

document.getElementById("chart").appendChild(chart);
</script>
</body></html>
